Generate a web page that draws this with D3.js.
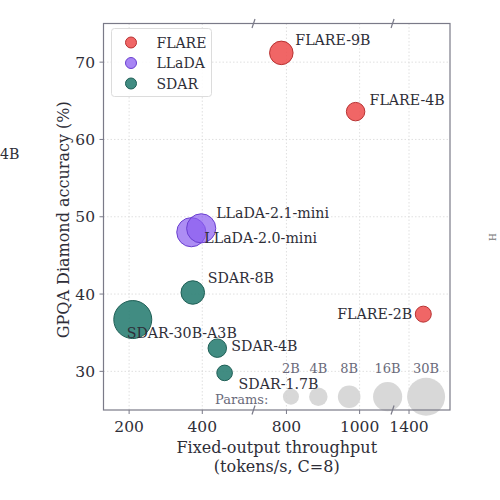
<!DOCTYPE html>
<html>
<head>
<meta charset="utf-8">
<script src="https://d3js.org/d3.v7.min.js"></script>
<style>
  body { margin: 0; background: #fff; }
  svg { display: block; font-family: "DejaVu Serif", serif; }
  .grid line { stroke: #d8d8d8; stroke-width: 0.8; stroke-dasharray: 1.5 2; }
  .tick-label { font-size: 15.5px; fill: #2e2e38; }
  .axis-title { font-size: 16px; fill: #2e2e38; }
  .pt-label { font-size: 14.2px; fill: #2e2e38; }
  .leg-label { font-size: 14px; fill: #2e2e38; }
  .key-label { font-size: 13px; fill: #6a6a7a; }
</style>
</head>
<body>
<script>
// ---- data ----
var families = ["FLARE", "LLaDA", "SDAR"];
var famColors = ["#ee5555", "#8a5cf0", "#2c7f74"];
var famEdges = ["#b83232", "#6a3fd0", "#1f5f56"];

var names = ["FLARE-9B", "FLARE-4B", "FLARE-2B",
             "LLaDA-2.0-mini", "LLaDA-2.1-mini",
             "SDAR-30B-A3B", "SDAR-8B", "SDAR-4B", "SDAR-1.7B"];
var family = ["FLARE", "FLARE", "FLARE", "LLaDA", "LLaDA", "SDAR", "SDAR", "SDAR", "SDAR"];
var throughput = [786, 989, 1439, 370, 397, 210, 374, 441, 461];
var accuracy = [71.2, 63.6, 37.4, 48.0, 48.5, 36.7, 40.2, 33.0, 29.8];
var params = [9, 4, 2, 16, 16, 30, 9, 4, 1.7];

var xTicks = [200, 400, 800, 1000, 1400];
var yTicks = [30, 40, 50, 60, 70];
var xPieces = [[130, 540], [710, 1090], [1355, 1512]];

var keyParams = [2, 4, 8, 16, 30];
var keyLabels = ["2B", "4B", "8B", "16B", "30B"];

// ---- layout ----
var W = 500, H = 500;
var m = {left: 103.5, top: 23.5, right: 50, bottom: 90};
var pw = W - m.left - m.right, ph = H - m.top - m.bottom;

var svg = d3.select("body").append("svg").attr("width", W).attr("height", H);
var g = svg.append("g").attr("transform", "translate(" + m.left + "," + m.top + ")");

// broken x scale: pieces laid side by side with the same px/unit
var span = d3.sum(xPieces, function(p) { return p[1] - p[0]; });
var k = pw / span;
var pieceScales = [];
var off = 0;
xPieces.forEach(function(p) {
  var w = (p[1] - p[0]) * k;
  pieceScales.push(d3.scaleLinear().domain(p).range([off, off + w]));
  off += w;
});
function x(v) {
  for (var i = 0; i < xPieces.length; i++) {
    if (v <= xPieces[i][1] || i == xPieces.length - 1) return pieceScales[i](v);
  }
}
var breaks = pieceScales.slice(0, -1).map(function(s) { return s.range()[1]; });

var y = d3.scaleLinear().domain([25, 75]).range([ph, 0]);
var area = d3.scaleLinear().domain([0, 30]).range([42.8, 361]);
function r(p) { return Math.sqrt(area(p)); }
var col = d3.scaleOrdinal().domain(families).range(famColors);
var edge = d3.scaleOrdinal().domain(families).range(famEdges);

// grid
var grid = g.append("g").attr("class", "grid");
grid.selectAll(".gy").data(yTicks).enter().append("line")
  .attr("x1", 0).attr("x2", pw).attr("y1", function(d) { return y(d); }).attr("y2", function(d) { return y(d); });
grid.selectAll(".gx").data(xTicks).enter().append("line")
  .attr("y1", 0).attr("y2", ph).attr("x1", function(d) { return x(d); }).attr("x2", function(d) { return x(d); });

// neighbour panel fragments
svg.append("text").attr("class", "pt-label").attr("x", 0).attr("y", 159).text("4B");
svg.append("text").style("font-size", "9px").style("fill", "#777")
  .attr("transform", "translate(496,241) rotate(-90)").text("H");

// size key
var keyX = [0.541, 0.62, 0.709, 0.82, 0.931];
var keyY = ph - 13.3;
g.selectAll(".key").data(keyParams).enter().append("circle")
  .attr("cx", function(d, i) { return keyX[i] * pw; })
  .attr("cy", keyY)
  .attr("r", function(d) { return r(d); })
  .attr("fill", "#d4d4d4").attr("opacity", 0.9);
g.selectAll(".key-t").data(keyLabels).enter().append("text")
  .attr("class", "key-label")
  .attr("x", function(d, i) { return keyX[i] * pw; })
  .attr("y", keyY - 23.5)
  .attr("text-anchor", "middle").text(function(d) { return d; });
g.append("text").attr("class", "key-label").attr("x", 215 - m.left).attr("y", keyY + 7.5).text("Params:");

// points
var pts = names.map(function(n, i) {
  return {name: n, fam: family[i], tp: throughput[i], acc: accuracy[i], p: params[i]};
});
g.selectAll(".pt").data(pts).enter().append("circle")
  .attr("cx", function(d) { return x(d.tp); })
  .attr("cy", function(d) { return y(d.acc); })
  .attr("r", function(d) { return r(d.p); })
  .attr("fill", function(d) { return col(d.fam); })
  .attr("fill-opacity", function(d) { return d.fam == "LLaDA" ? 0.7 : 0.9; })
  .attr("stroke", function(d) { return edge(d.fam); })
  .attr("stroke-width", 1);

// point labels (offsets in px)
var labOff = {
  "FLARE-9B": [14, -8, "start"], "FLARE-4B": [14, -7, "start"], "FLARE-2B": [-11, 5, "end"],
  "LLaDA-2.0-mini": [13, 11, "start"], "LLaDA-2.1-mini": [15, -10, "start"],
  "SDAR-30B-A3B": [-6, 18, "start"], "SDAR-8B": [15, -10, "start"],
  "SDAR-4B": [14, 3, "start"], "SDAR-1.7B": [14, 16, "start"]
};
g.selectAll(".lab").data(pts).enter().append("text")
  .attr("class", "pt-label")
  .attr("x", function(d) { return x(d.tp) + labOff[d.name][0]; })
  .attr("y", function(d) { return y(d.acc) + labOff[d.name][1]; })
  .attr("text-anchor", function(d) { return labOff[d.name][2]; })
  .text(function(d) { return d.name; });

// spines
var spine = "#7a7a88";
g.append("rect").attr("width", pw).attr("height", ph)
  .attr("fill", "none").attr("stroke", spine).attr("stroke-width", 1.2);
// break marks
breaks.forEach(function(b) {
  [0, ph].forEach(function(yy) {
    g.append("line").attr("x1", b - 1.5).attr("x2", b + 1.5)
      .attr("y1", yy + 4.5).attr("y2", yy - 4.5)
      .attr("stroke", spine).attr("stroke-width", 1.2);
  });
});

// ticks
g.selectAll(".xt").data(xTicks).enter().append("line")
  .attr("x1", function(d) { return x(d); }).attr("x2", function(d) { return x(d); })
  .attr("y1", ph).attr("y2", ph + 4).attr("stroke", spine);
g.selectAll(".xl").data(xTicks).enter().append("text")
  .attr("class", "tick-label").attr("text-anchor", "middle")
  .attr("x", function(d) { return x(d); }).attr("y", ph + 21.5)
  .text(function(d) { return d; });
g.selectAll(".yt").data(yTicks).enter().append("line")
  .attr("y1", function(d) { return y(d); }).attr("y2", function(d) { return y(d); })
  .attr("x1", 0).attr("x2", -4).attr("stroke", spine);
g.selectAll(".yl").data(yTicks).enter().append("text")
  .attr("class", "tick-label").attr("text-anchor", "end")
  .attr("x", -8.5).attr("y", function(d) { return y(d) + 5.5; })
  .text(function(d) { return d; });

// axis titles
g.append("text").attr("class", "axis-title").attr("text-anchor", "middle")
  .attr("x", pw / 2).attr("y", ph + 42.5).text("Fixed-output throughput");
g.append("text").attr("class", "axis-title").attr("text-anchor", "middle")
  .attr("x", pw / 2).attr("y", ph + 61.5).text("(tokens/s, C=8)");
g.append("text").attr("class", "axis-title").attr("text-anchor", "middle")
  .attr("transform", "translate(-34.5," + (ph / 2 + 3) + ") rotate(-90)")
  .text("GPQA Diamond accuracy (%)");

// legend
var lg = g.append("g").attr("transform", "translate(8,5)");
lg.append("rect").attr("width", 100).attr("height", 68).attr("rx", 3)
  .attr("fill", "#fff").attr("fill-opacity", 0.85).attr("stroke", "#dcdcdc");
families.forEach(function(f, i) {
  lg.append("circle").attr("cx", 19.5).attr("cy", 14 + i * 20.5).attr("r", 5.5)
    .attr("fill", col(f)).attr("fill-opacity", f == "LLaDA" ? 0.75 : 0.9)
    .attr("stroke", edge(f));
  lg.append("text").attr("class", "leg-label").attr("x", 45).attr("y", 19 + i * 20.5).text(f);
});
</script>
</body>
</html>
